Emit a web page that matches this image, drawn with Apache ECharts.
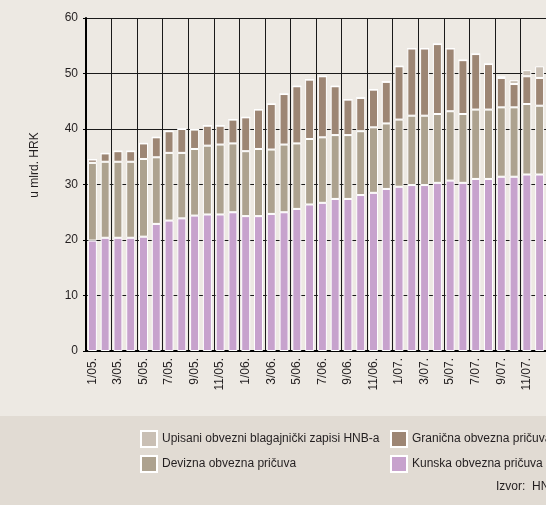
<!DOCTYPE html>
<html>
<head>
<meta charset="utf-8">
<script src="https://cdn.jsdelivr.net/npm/echarts@6/dist/echarts.min.js"></script>
<style>
  html, body { margin: 0; padding: 0; background: #EDE9E3; }
  #chart { width: 546px; height: 505px; }
</style>
</head>
<body>
<div id="chart"></div>
<script>
// months 1/05. .. 12/07.
const months = [];
['05', '06', '07'].forEach(function (y) {
  for (let m = 1; m <= 12; m++) months.push(m + '/' + y + '.');
});

// values in billions HRK
const kunska = [19.9, 20.4, 20.4, 20.4, 20.6, 22.9, 23.5, 23.9, 24.4, 24.6, 24.6, 25.0,
  24.3, 24.3, 24.7, 25.0, 25.6, 26.4, 26.7, 27.4, 27.4, 28.1, 28.5, 29.2,
  29.6, 29.9, 29.9, 30.3, 30.7, 30.3, 31.0, 31.0, 31.4, 31.4, 31.8, 31.8];
const devizna = [14.0, 13.7, 13.7, 13.7, 14.0, 12.0, 12.2, 11.8, 12.0, 12.4, 12.6, 12.4,
  11.7, 12.1, 11.6, 12.2, 11.8, 11.8, 11.8, 11.5, 11.5, 11.5, 11.8, 11.8,
  12.1, 12.5, 12.5, 12.4, 12.5, 12.4, 12.5, 12.5, 12.5, 12.5, 12.7, 12.4];
const granicna = [0.6, 1.5, 1.9, 1.9, 2.8, 3.6, 3.9, 4.3, 3.5, 3.6, 3.4, 4.3,
  6.1, 7.1, 8.2, 9.1, 10.3, 10.7, 11.0, 8.8, 6.4, 6.0, 6.8, 7.5,
  9.6, 12.1, 12.1, 12.6, 11.3, 9.7, 10.0, 8.2, 5.3, 4.2, 5.0, 5.0];
const upisani = [0, 0, 0, 0, 0, 0, 0, 0, 0, 0, 0, 0,
  0, 0, 0, 0, 0, 0, 0, 0, 0, 0, 0, 0,
  0, 0, 0, 0, 0, 0, 0, 0, 0.3, 0.7, 1.1, 2.1];

const yTicks = { min: 0, max: 60, interval: 10 };

// the original uses a condensed face; Liberation Sans at 12px gives about the same widths
const FONT = '"Liberation Sans", Arial, sans-serif';
const FS = 12;
const TEXT = '#231F20';
const GRID = '#1a1a1a';

const colors = {
  upisani: '#C9BFB4',
  devizna: '#ADA28F',
  granicna: '#9D8674',
  kunska: '#C7A2CD'
};

function bar(name, data, color) {
  return {
    name: name,
    type: 'bar',
    stack: 'total',
    barWidth: 9,
    data: data,
    itemStyle: { color: color, borderColor: '#fff', borderWidth: 1 }
  };
}

function legendCol(left, names) {
  return {
    orient: 'vertical',
    left: left,
    top: 430,
    padding: 0,
    itemWidth: 16,
    itemHeight: 16,
    itemGap: 7,
    icon: 'rect',
    data: names,
    textStyle: { color: TEXT, fontSize: FS, fontFamily: FONT }
  };
}

const chart = echarts.init(document.getElementById('chart'));

chart.setOption({
  backgroundColor: '#EDE9E3',
  animation: false,
  grid: { left: 86, right: 0, top: 18, bottom: 154 },
  graphic: [
    {
      type: 'rect',
      z: -1,
      shape: { x: 0, y: 416, width: 546, height: 89 },
      style: { fill: '#E1DBD3' }
    },
    {
      type: 'text',
      x: 35,
      y: 165,
      rotation: Math.PI / 2,
      style: {
        text: 'u mlrd. HRK',
        fill: TEXT,
        font: FS + 'px ' + FONT,
        textAlign: 'center',
        textVerticalAlign: 'middle'
      }
    },
    {
      type: 'text',
      x: 496,
      y: 487,
      style: {
        text: 'Izvor:  HNB.',
        fill: TEXT,
        font: FS + 'px ' + FONT,
        textAlign: 'left',
        textVerticalAlign: 'middle'
      }
    }
  ],
  legend: [
    legendCol(140, ['Upisani obvezni blagajnički zapisi HNB-a', 'Devizna obvezna pričuva']),
    legendCol(390, ['Granična obvezna pričuva', 'Kunska obvezna pričuva'])
  ],
  xAxis: {
    type: 'category',
    data: months,
    axisLine: { lineStyle: { color: '#000', width: 2 } },
    axisTick: { show: false },
    axisLabel: {
      interval: 1,
      rotate: 90,
      margin: 7,
      color: TEXT,
      fontSize: FS,
      fontFamily: FONT
    },
    splitLine: { show: true, interval: 1, lineStyle: { color: GRID, width: 1 } }
  },
  yAxis: {
    type: 'value',
    min: yTicks.min,
    max: yTicks.max,
    interval: yTicks.interval,
    axisLine: { show: true, lineStyle: { color: '#000', width: 2 } },
    axisTick: { show: true, length: 3, lineStyle: { color: '#000' } },
    axisLabel: { color: TEXT, fontSize: FS, fontFamily: FONT, margin: 8 },
    splitLine: { show: true, lineStyle: { color: GRID, width: 1 } }
  },
  series: [
    bar('Kunska obvezna pričuva', kunska, colors.kunska),
    bar('Devizna obvezna pričuva', devizna, colors.devizna),
    bar('Granična obvezna pričuva', granicna, colors.granicna),
    bar('Upisani obvezni blagajnički zapisi HNB-a', upisani, colors.upisani)
  ]
});
</script>
</body>
</html>
